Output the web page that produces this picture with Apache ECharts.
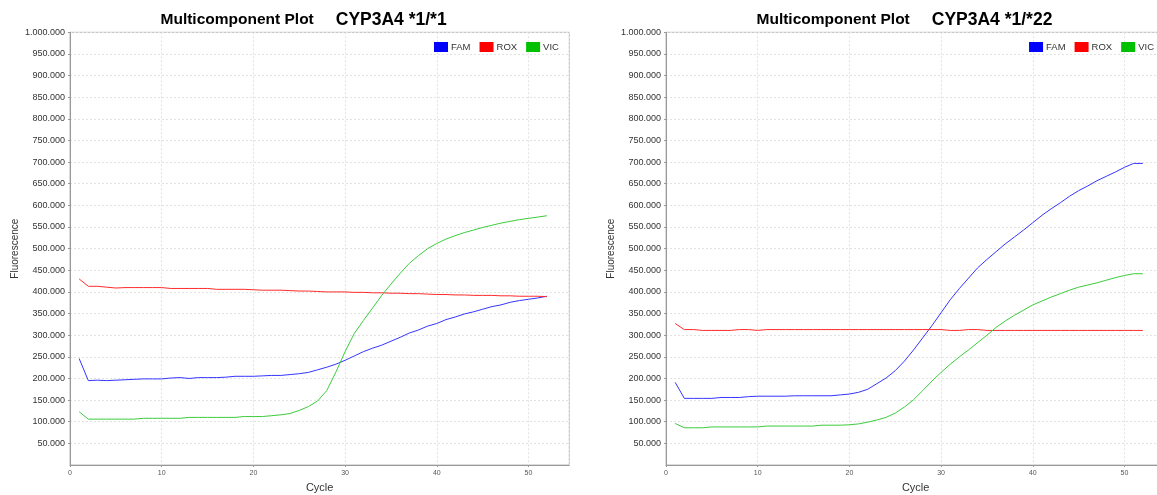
<!DOCTYPE html>
<html>
<head>
<meta charset="utf-8">
<script src="https://cdn.jsdelivr.net/npm/echarts@6/dist/echarts.min.js"></script>
<style>
html,body{margin:0;padding:0;background:#fff;}
#chart{width:1157px;height:495px;}
</style>
</head>
<body>
<div id="chart"></div>
<script>
// Cycles 1..52
const cycles = Array.from({length: 52}, (_, i) => i + 1);
const seriesNames = ['FAM', 'ROX', 'VIC'];
const xTicks = [0, 10, 20, 30, 40, 50];

// Left chart: CYP3A4 *1/*1 (values in thousands)
const famLeft = [246,195,196,195,196,197,198,199,199,199,201,202,200,202,202,202,203,205,205,205,206,207,207,209,211,214,220,226,233,242,252,262,270,277,286,295,305,312,321,327,336,342,349,354,360,366,370,376,380,383,386,390];
const roxLeft = [430,413,413,411,409,410,410,410,410,410,408,408,408,408,408,406,406,406,406,405,404,404,404,403,402,402,401,400,400,400,399,399,398,398,397,397,396,396,395,394,394,393,393,392,392,392,391,391,390,390,390,389];
const vicLeft = [123,106,106,106,106,106,106,108,108,108,108,108,110,110,110,110,110,110,112,112,112,114,116,119,126,135,148,172,215,262,304,334,363,392,418,443,466,484,500,512,522,530,537,543,549,554,559,563,567,570,573,576];

// Right chart: CYP3A4 *1/*22 (values in thousands)
const famRight = [191,154,154,154,154,156,156,156,158,159,159,159,159,160,160,160,160,160,162,164,168,175,188,201,218,240,266,294,322,352,382,408,432,456,475,493,511,527,543,560,577,592,606,621,634,645,657,667,677,688,697,697];
const roxRight = [327,313,313,311,311,311,311,313,313,311,313,313,313,313,313,313,313,313,313,313,313,313,313,313,313,313,313,313,313,313,311,311,313,313,311,311,311,311,311,311,311,311,311,311,311,311,311,311,311,311,311,311];
const vicRight = [96,86,86,86,88,88,88,88,88,88,90,90,90,90,90,90,92,92,92,93,95,99,104,110,120,134,151,172,194,214,233,250,266,283,300,318,333,346,358,370,379,388,396,404,411,416,421,427,433,438,442,442];

const titles = ['CYP3A4 *1/*1', 'CYP3A4 *1/*22'];

const legendColors = {FAM: '#0000ff', ROX: '#ff0000', VIC: '#00c000'};
const lineColors = {FAM: '#3535ff', ROX: '#ff2a2a', VIC: '#3ccc3c'};

const FONT = "'Liberation Sans', Arial, sans-serif";

function toPairs(arr) { return arr.map((v, i) => [cycles[i], v * 1000]); }
function fmt(v) { return String(v).replace(/\B(?=(\d{3})+(?!\d))/g, '.'); }

const panels = [
  {data: {FAM: famLeft, ROX: roxLeft, VIC: vicLeft}, offset: 0},
  {data: {FAM: famRight, ROX: roxRight, VIC: vicRight}, offset: 596}
];

const option = {
  animation: false,
  backgroundColor: '#fff',
  textStyle: {fontFamily: FONT},
  title: [], legend: [], grid: [], xAxis: [], yAxis: [], series: []
};

panels.forEach((p, k) => {
  const o = p.offset;
  option.title.push({
    left: 160.5 + o, top: 11, padding: 0,
    text: '{a|Multicomponent Plot}{b|' + titles[k] + '}',
    textStyle: {
      rich: {
        a: {fontFamily: FONT, fontWeight: 'bold', fontSize: 15.5, color: '#000'},
        b: {fontFamily: FONT, fontWeight: 'bold', fontSize: 17.5, color: '#000', padding: [0, 0, 0, 22]}
      }
    }
  });
  const lg = {
    top: 42, padding: 0,
    icon: 'rect', itemWidth: 14, itemHeight: 10, itemGap: 9,
    textStyle: {fontFamily: FONT, fontSize: 9.5, color: '#333', padding: [0, 0, 0, -2]},
    data: seriesNames
  };
  if (k === 0) { lg.left = 434; } else { lg.right = 3; }
  option.legend.push(lg);
  option.grid.push({
    left: 70 + o, top: 32.3, width: 499.3, height: 432.7,
    outerBoundsMode: 'none', containLabel: false,
    show: true, borderColor: '#b8b8b8', borderWidth: 1
  });
  option.xAxis.push({
    type: 'value', gridIndex: k, min: 0, max: 54.45, interval: 10,
    name: 'Cycle', nameLocation: 'middle', nameGap: 17,
    nameTextStyle: {fontFamily: FONT, fontSize: 11, color: '#333'},
    axisLine: {show: true, onZero: false, lineStyle: {color: '#999', width: 1}},
    axisTick: {show: true, length: 2, lineStyle: {color: '#999'}},
    axisLabel: {fontFamily: FONT, fontSize: 7, color: '#555', margin: 5, showMaxLabel: false,
      formatter: v => xTicks.indexOf(v) >= 0 ? String(v) : ''},
    splitLine: {show: true, lineStyle: {color: '#e2e2e2', type: [2, 2], width: 1}}
  });
  option.yAxis.push({
    type: 'value', gridIndex: k, min: 0, max: 1000000, interval: 50000,
    name: 'Fluorescence', nameLocation: 'middle', nameGap: 50,
    nameTextStyle: {fontFamily: FONT, fontSize: 10, color: '#333'},
    axisLine: {show: true, lineStyle: {color: '#999', width: 1}},
    axisTick: {show: true, length: 2, lineStyle: {color: '#999'}},
    axisLabel: {fontFamily: FONT, fontSize: 9, color: '#333', margin: 5, showMinLabel: false, formatter: v => fmt(v)},
    splitLine: {show: true, lineStyle: {color: '#e2e2e2', type: [2, 2], width: 1}}
  });
  seriesNames.forEach(n => {
    option.series.push({
      name: n, type: 'line', xAxisIndex: k, yAxisIndex: k,
      showSymbol: false, symbol: 'none', smooth: false,
      itemStyle: {color: legendColors[n]},
      lineStyle: {color: lineColors[n], width: 1},
      data: toPairs(p.data[n])
    });
  });
});

const chart = echarts.init(document.getElementById('chart'), null, {renderer: 'canvas'});
chart.setOption(option);
</script>
</body>
</html>
